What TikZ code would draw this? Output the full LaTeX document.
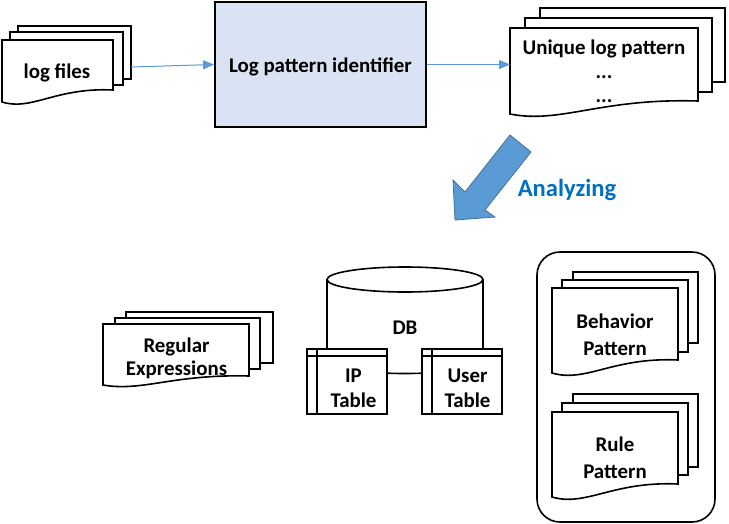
\documentclass[tikz,border=0pt]{standalone}
\usepackage{fontspec}
\setmainfont{Carlito}
\usetikzlibrary{arrows.meta}
\definecolor{connblue}{HTML}{5B9BD5}
\definecolor{boxfill}{HTML}{DAE3F3}
\definecolor{arrowedge}{HTML}{41719C}
\definecolor{anatext}{HTML}{0070C0}
\tikzset{
  line/.style={line width=1.6pt, draw=black},
  sheet/.style={line width=1.6pt, draw=black, fill=white},
  conn/.style={draw=connblue, line width=1pt, -{Triangle[length=11pt,width=9pt]}},
  lbl/.style={inner sep=0pt, align=center, font=\bfseries\fontsize{20.9}{#1}\selectfont},
  lbl/.default=24,
  tablebox/.style={line width=1.6pt, draw=black, fill=white, minimum width=80pt, minimum height=65pt, inner sep=0pt},
}
% L T R B drop : document sheet with wavy bottom
\newcommand\docsheet[5]{%
  \filldraw[sheet] (#1,#2) -- (#3,#2) -- (#3,{#4-#5})
    .. controls ({#1+0.48*(#3-#1)},{#4-1.23*#5}) and ({#1+0.27*(#3-#1)},{#4+0.77*#5}) .. (#1,#4) -- cycle;}
\newcommand\backsheet[4]{\filldraw[sheet] (#1,#2) rectangle (#3,#4);}
\begin{document}
\begin{tikzpicture}[x=1pt,y=-1pt]
\useasboundingbox (0,0) rectangle (729,523);

% log files stack
\backsheet{18}{26}{131}{79}
\backsheet{10}{32}{123}{85}
\docsheet{2}{40}{113}{102}{12}
\node[lbl] (logf) at (57,73) {log files};
\coordinate (logOut) at (131,67);

% identifier box
\node[draw=black, line width=1.8pt, fill=boxfill, minimum width=211pt, minimum height=125pt, inner sep=0pt] (lpi) at (320.5,64.5) {};
\node[lbl] (lpitxt) at (320.5,66.5) {Log pattern identifier};

% unique log pattern stack
\backsheet{540}{8}{725}{82}
\backsheet{525}{18}{712}{92}
\docsheet{510}{28}{698}{114}{13}
\node[lbl=24] (uniq) at (604,71) {Unique log pattern\\...\\...};
\coordinate (uniqIn) at (510,64.5);

\draw[conn] (logOut) -- (lpi.west);
\draw[conn] (lpi.east) -- (uniqIn);

% analyzing block arrow
\filldraw[fill=connblue, draw=arrowedge, line width=0.8pt]
  (510,135) -- (531,152) -- (485,210) -- (495,217) -- (455,220) -- (453,180) -- (465,192) -- cycle;
\node[inner sep=0pt, font=\bfseries\fontsize{24.6}{28}\selectfont, text=anatext] (ana) at (567,189.5) {Analyzing};

% regular expressions stack
\backsheet{126}{312}{273}{363}
\backsheet{115}{318}{260}{369}
\docsheet{103}{324}{249}{385}{9}
\node[lbl=23] (regex) at (176.5,358.5) {Regular\\Expressions};

% database cylinder
\filldraw[line, fill=white] (327,279.5) -- (327,361)
  arc[start angle=180, end angle=360, x radius=78pt, y radius=12.5pt] -- (483,279.5)
  arc[start angle=0, end angle=180, x radius=78pt, y radius=12.5pt] -- cycle;
\draw[line] (327,279.5) arc[start angle=180, end angle=360, x radius=78pt, y radius=12.5pt];
\node[lbl] (db) at (405,327.5) {DB};

% tables
\node[tablebox] (ipt) at (347,381.5) {};
\draw[line] ([xshift=11pt]ipt.north west) -- ([xshift=11pt]ipt.south west);
\draw[line] ([yshift=-8pt]ipt.north west) -- ([yshift=-8pt]ipt.north east);
\node[lbl=25] (iptxt) at (353.5,388.5) {IP\\Table};

\node[tablebox] (ust) at (462,381.5) {};
\draw[line] ([xshift=11pt]ust.north west) -- ([xshift=11pt]ust.south west);
\draw[line] ([yshift=-8pt]ust.north west) -- ([yshift=-8pt]ust.north east);
\node[lbl=25] (usttxt) at (467.5,388.5) {User\\Table};

% right panel
\node[draw=black, line width=1.6pt, rounded corners=23pt, minimum width=178pt, minimum height=270pt, inner sep=0pt] (panel) at (626,387) {};

\backsheet{573}{272}{698}{343}
\backsheet{562}{280}{688}{352}
\docsheet{552}{288}{678}{373}{13}
\node[lbl=27] (beh) at (615,335) {Behavior\\Pattern};

\backsheet{573}{394}{698}{467}
\backsheet{562}{403}{688}{475}
\docsheet{552}{412}{678}{497}{13}
\node[lbl=27] (rule) at (615,458) {Rule\\Pattern};
\end{tikzpicture}
\end{document}
